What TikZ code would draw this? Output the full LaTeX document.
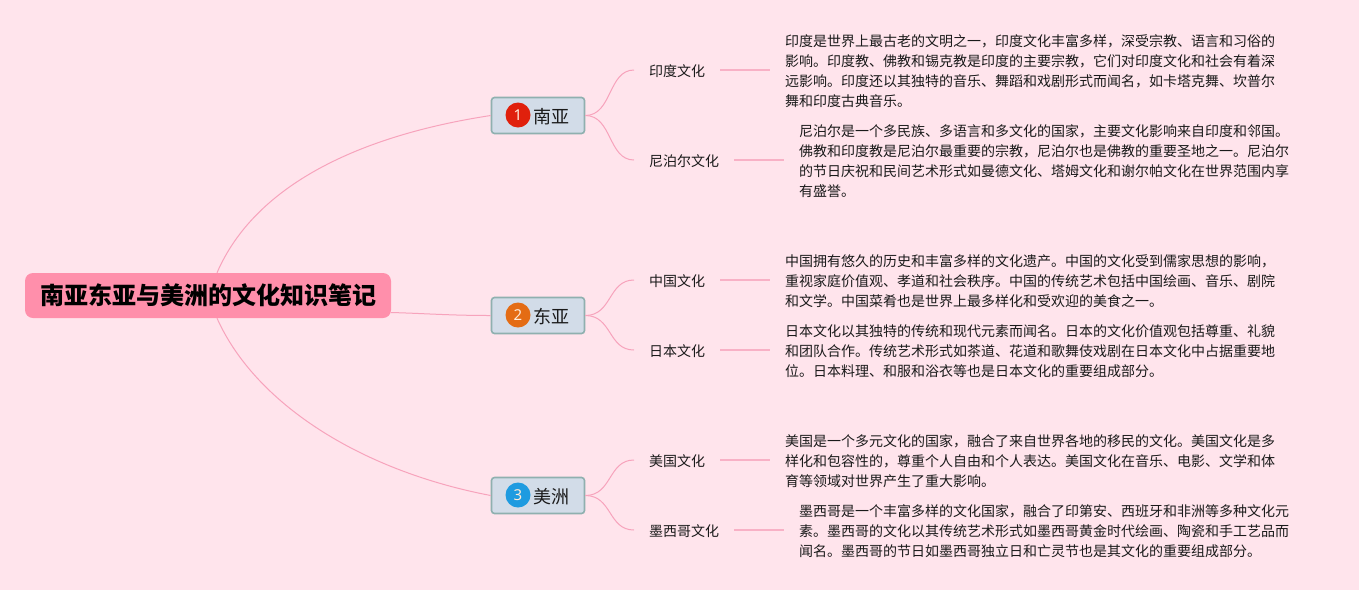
\documentclass[tikz,border=0pt]{standalone}
\usepackage{fontspec}
\setmainfont{Noto Sans CJK SC}
\newfontfamily\latinbadge{Noto Sans}
\definecolor{bgpink}{HTML}{FFE4EC}
\definecolor{rootpink}{HTML}{FF8FAB}
\definecolor{linkpink}{HTML}{F7A3BC}
\definecolor{boxfill}{HTML}{D2DCE8}
\definecolor{boxline}{HTML}{8FB0AF}
\definecolor{txt}{HTML}{1A1A1A}
\definecolor{badgered}{HTML}{E0200C}
\definecolor{badgeorange}{HTML}{E46C14}
\definecolor{badgeblue}{HTML}{1E9BE0}
\newcommand{\boxtext}[1]{\raisebox{-1pt}[\height][\depth]{\hspace*{26pt}#1}}
\tikzset{
  rootbox/.style={fill=rootpink,rounded corners=8pt,minimum width=366pt,minimum height=45pt,inner sep=0pt,text=black,font=\fontsize{24}{28}\selectfont\bfseries},
  areabox/.style={fill=boxfill,draw=boxline,line width=1.6pt,rounded corners=3pt,minimum width=93pt,minimum height=36pt,inner sep=0pt,text=txt,font=\fontsize{18}{22}\selectfont},
  badge/.style={circle,minimum size=25pt,inner sep=0pt,text=white!85!orange,font=\latinbadge\fontsize{15}{17}\selectfont},
  topic/.style={anchor=west,inner xsep=15pt,inner ysep=0pt,text=txt,font=\fontsize{14}{18}\selectfont},
  desc/.style={anchor=west,align=left,inner xsep=15pt,inner ysep=0pt,text=txt,font=\fontsize{14}{20}\selectfont},
  mainlink/.style={draw=linkpink,line width=1pt},
  sublink/.style={draw=linkpink,line width=1pt},
  stublink/.style={draw=linkpink!85!white,line width=1.5pt},
}
\begin{document}
\begin{tikzpicture}[x=1pt,y=-1pt]
\useasboundingbox (0,0) rectangle (1359,590);
\fill[bgpink] (0,0) rectangle (1359,590);

\node[rootbox] (root) at (208,295.5) {南亚东亚与美洲的文化知识笔记};

\node[areabox] (sa) at (538,115.5) {\boxtext{南亚}};
\node[areabox] (ea) at (538,315.5) {\boxtext{东亚}};
\node[areabox] (am) at (538,495.5) {\boxtext{美洲}};
\node[badge,fill=badgered] (b1) at (518,115) {1};
\node[badge,fill=badgeorange] (b2) at (518,315) {2};
\node[badge,fill=badgeblue] (b3) at (518,495) {3};

\node[topic] (t1) at (634,71) {印度文化};
\node[topic] (t2) at (634,161) {尼泊尔文化};
\node[topic] (t3) at (634,281) {中国文化};
\node[topic] (t4) at (634,351) {日本文化};
\node[topic] (t5) at (634,461) {美国文化};
\node[topic] (t6) at (634,531) {墨西哥文化};

\node[desc] (d1) at (770,71) {印度是世界上最古老的文明之一，印度文化丰富多样，深受宗教、语言和习俗的\\影响。印度教、佛教和锡克教是印度的主要宗教，它们对印度文化和社会有着深\\远影响。印度还以其独特的音乐、舞蹈和戏剧形式而闻名，如卡塔克舞、坎普尔\\舞和印度古典音乐。};
\node[desc] (d2) at (784,161) {尼泊尔是一个多民族、多语言和多文化的国家，主要文化影响来自印度和邻国。\\佛教和印度教是尼泊尔最重要的宗教，尼泊尔也是佛教的重要圣地之一。尼泊尔\\的节日庆祝和民间艺术形式如曼德文化、塔姆文化和谢尔帕文化在世界范围内享\\有盛誉。};
\node[desc] (d3) at (770,281) {中国拥有悠久的历史和丰富多样的文化遗产。中国的文化受到儒家思想的影响，\\重视家庭价值观、孝道和社会秩序。中国的传统艺术包括中国绘画、音乐、剧院\\和文学。中国菜肴也是世界上最多样化和受欢迎的美食之一。};
\node[desc] (d4) at (770,351) {日本文化以其独特的传统和现代元素而闻名。日本的文化价值观包括尊重、礼貌\\和团队合作。传统艺术形式如茶道、花道和歌舞伎戏剧在日本文化中占据重要地\\位。日本料理、和服和浴衣等也是日本文化的重要组成部分。};
\node[desc] (d5) at (770,461) {美国是一个多元文化的国家，融合了来自世界各地的移民的文化。美国文化是多\\样化和包容性的，尊重个人自由和个人表达。美国文化在音乐、电影、文学和体\\育等领域对世界产生了重大影响。};
\node[desc] (d6) at (784,531) {墨西哥是一个丰富多样的文化国家，融合了印第安、西班牙和非洲等多种文化元\\素。墨西哥的文化以其传统艺术形式如墨西哥黄金时代绘画、陶瓷和手工艺品而\\闻名。墨西哥的节日如墨西哥独立日和亡灵节也是其文化的重要组成部分。};

\path[mainlink] ([xshift=9pt]root.north) .. controls +(38,-88) and +(-131,20) .. (sa.west);
\path[mainlink] ([xshift=9pt]root.south) .. controls +(38,85) and +(-131,-25) .. (am.west);
\path[mainlink] ([yshift=-17pt]root.east) .. controls +(35,1) and +(-40,0) .. (ea.west);

\foreach \f/\g in {sa/t1,sa/t2,ea/t3,ea/t4,am/t5,am/t6}{
  \path[sublink] (\f.east) .. controls +(27,0) and +(-26,0) .. ([yshift=1pt]\g.west);
}
\foreach \a/\b in {t1/d1,t2/d2,t3/d3,t4/d4,t5/d5,t6/d6}{
  \path[stublink] ([yshift=1pt]\a.east) -- ([yshift=1pt]\b.west);
}
\end{tikzpicture}
\end{document}
